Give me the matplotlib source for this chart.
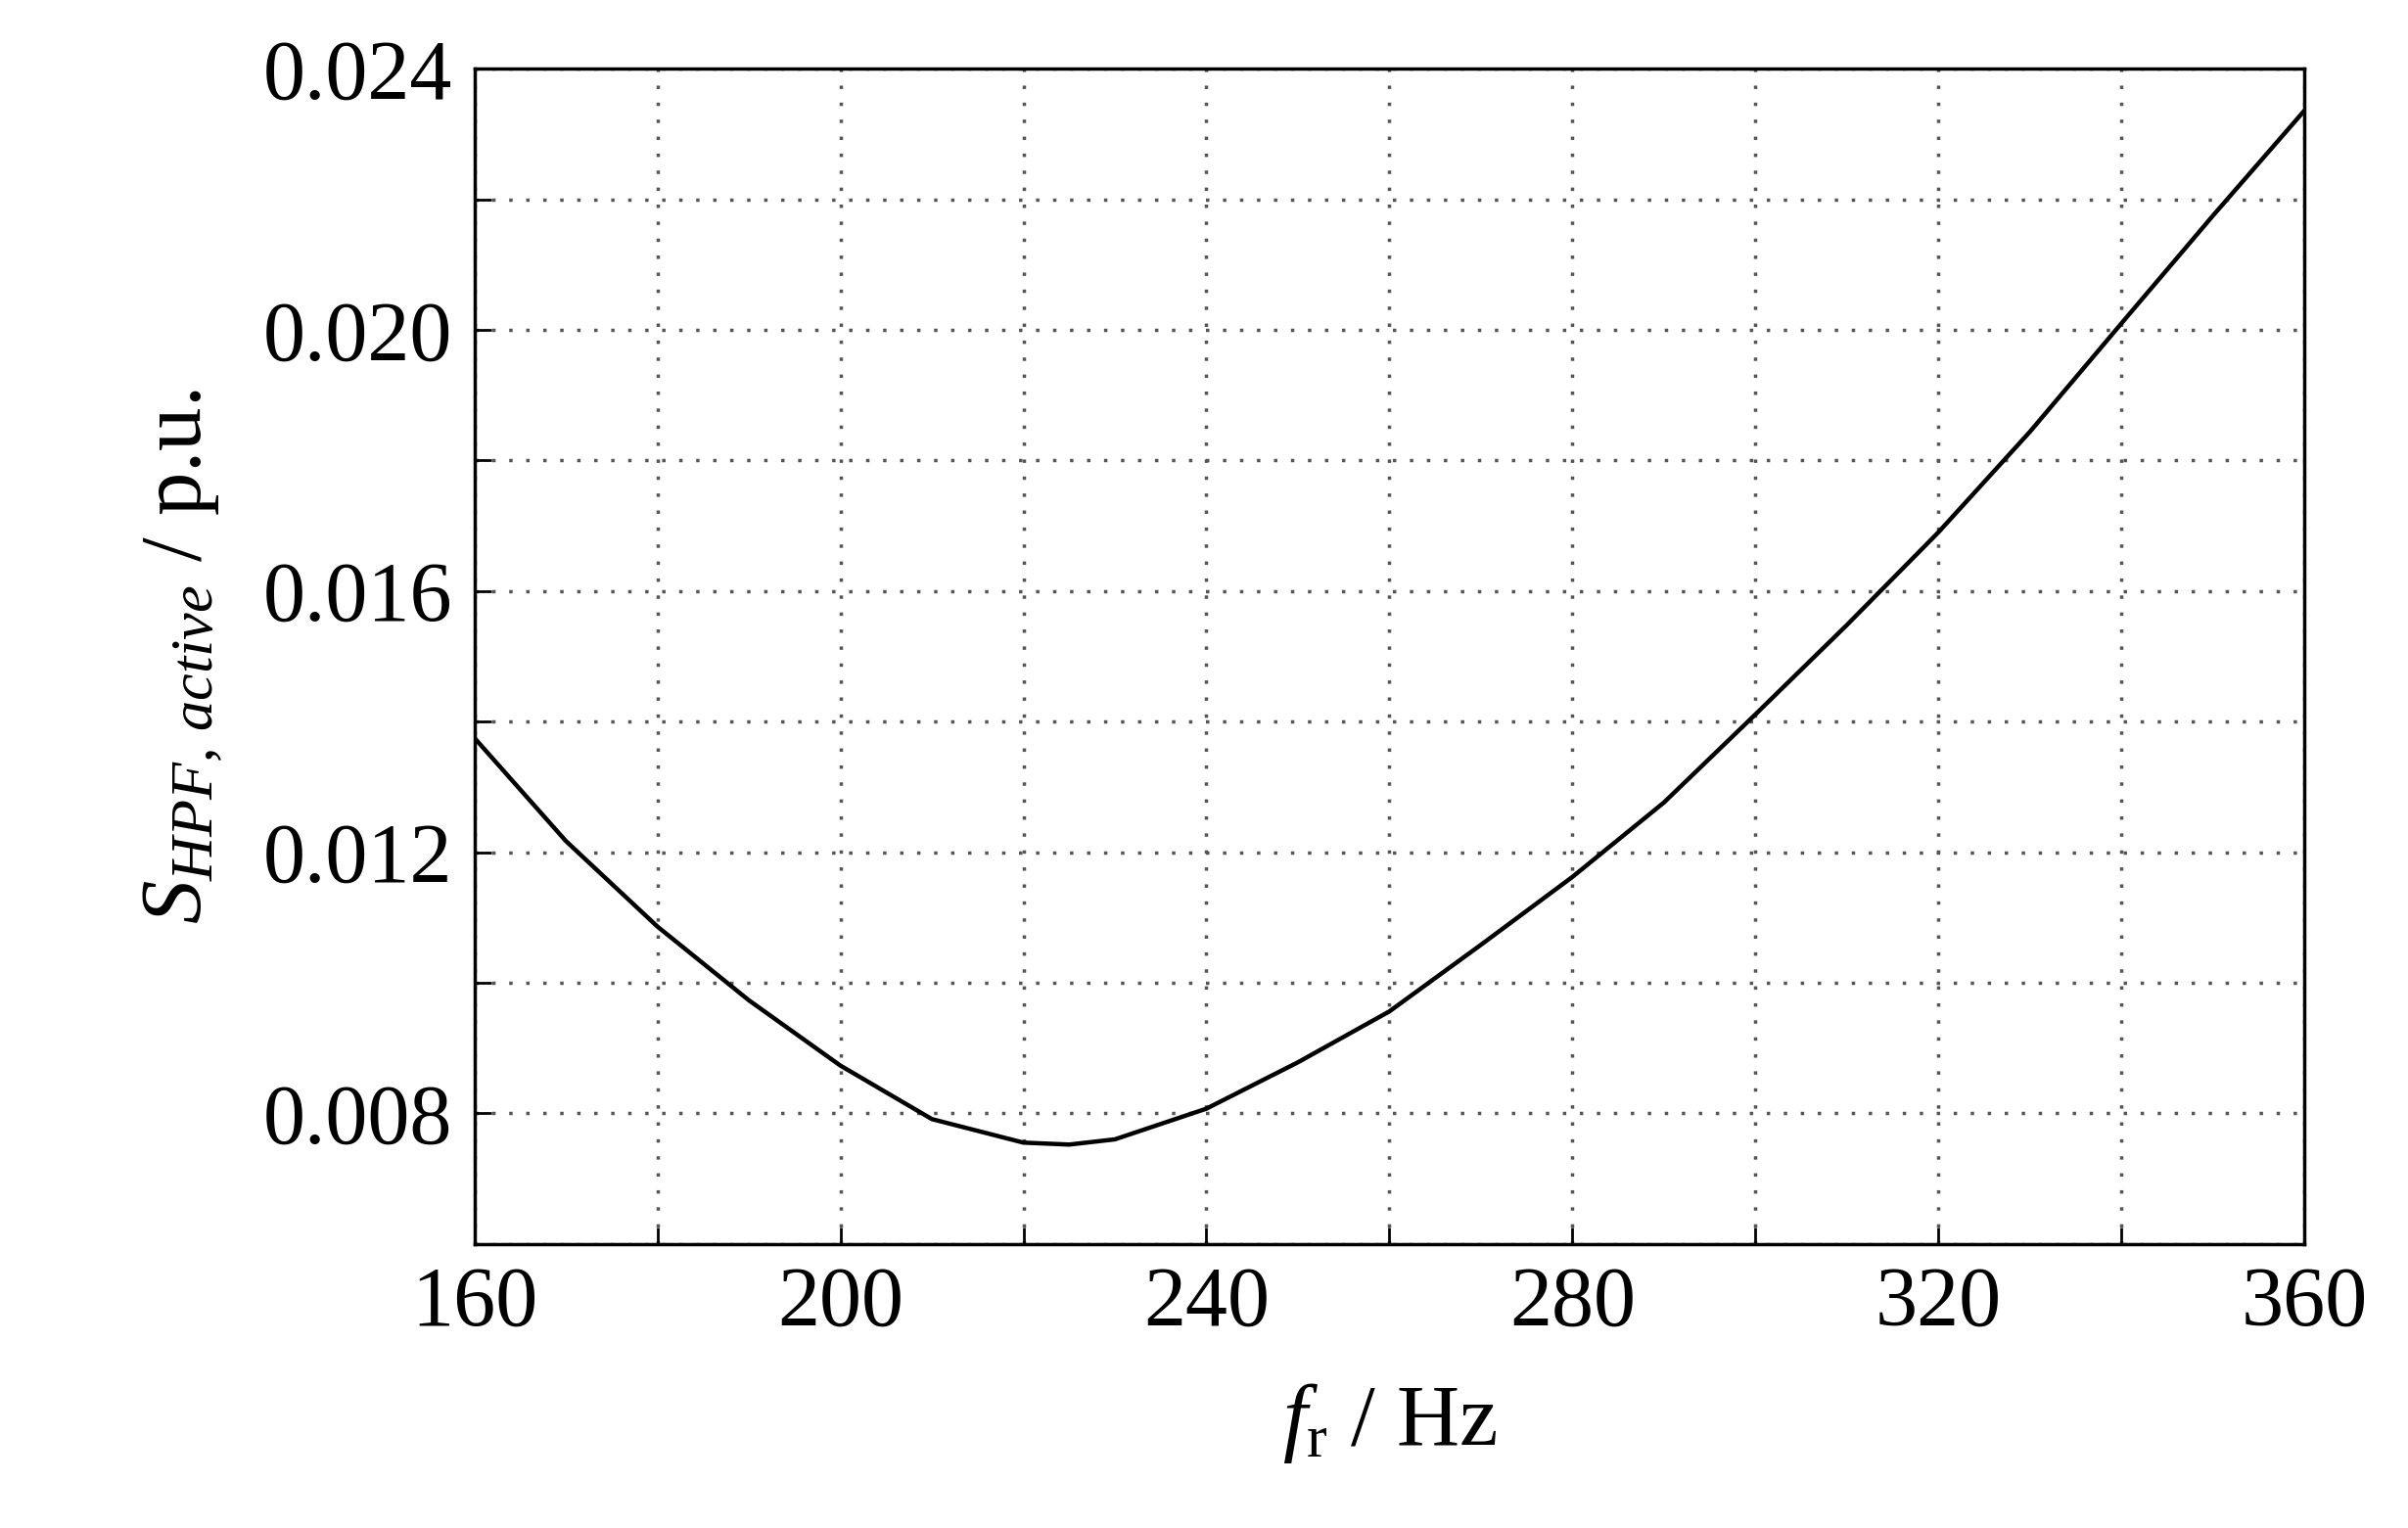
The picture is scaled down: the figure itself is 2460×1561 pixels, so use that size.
import matplotlib
matplotlib.use("Agg")
import matplotlib.pyplot as plt
from matplotlib.ticker import MultipleLocator

freq = [160, 170, 180, 190, 200, 210, 220, 225, 230, 240, 250, 260, 270, 280, 290, 300, 310, 320, 330, 340, 350, 360]
s_hpf = [0.01375, 0.01217, 0.01086, 0.00973, 0.00873, 0.00791, 0.00755, 0.00752, 0.00760, 0.00807, 0.00878, 0.00956,
         0.01058, 0.01162, 0.01276, 0.01411, 0.01548, 0.01690, 0.01844, 0.02010, 0.02175, 0.02336]

plt.rcParams['font.family'] = ['Liberation Serif', 'DejaVu Serif']
plt.rcParams['mathtext.fontset'] = 'custom'
plt.rcParams['mathtext.it'] = 'Liberation Serif:italic'
plt.rcParams['mathtext.rm'] = 'Liberation Serif'

fig = plt.figure(figsize=(24.6, 15.61), dpi=100)
ax = fig.add_axes([0.197, 0.186, 0.760, 0.769])
ax.plot(freq, s_hpf, color='black', lw=3.2)
ax.set_xlim(160, 360)
ax.set_ylim(0.006, 0.024)
ax.xaxis.set_major_locator(MultipleLocator(40))
ax.xaxis.set_minor_locator(MultipleLocator(20))
ax.yaxis.set_major_locator(MultipleLocator(0.004))
ax.yaxis.set_minor_locator(MultipleLocator(0.002))
ax.yaxis.set_major_formatter(matplotlib.ticker.FuncFormatter(lambda v, p: f"{v:.3f}"))
ax.grid(which='both', color='#555555', linestyle=(0, (1, 4)), lw=2.5)
ax.tick_params(which='both', direction='in', labelsize=62, width=2, top=False, right=False)
ax.tick_params(which='major', length=12, pad=16)
ax.tick_params(which='minor', length=12)
for s in ax.spines.values():
    s.set_linewidth(2.5)
ax.set_xlabel(r'$f_{\mathrm{r}}$ / Hz', fontsize=64, labelpad=28)
ax.set_ylabel(r'$S_{HPF,\,active}$ / p.u.', fontsize=64, labelpad=28)
fig.savefig('out.png')
